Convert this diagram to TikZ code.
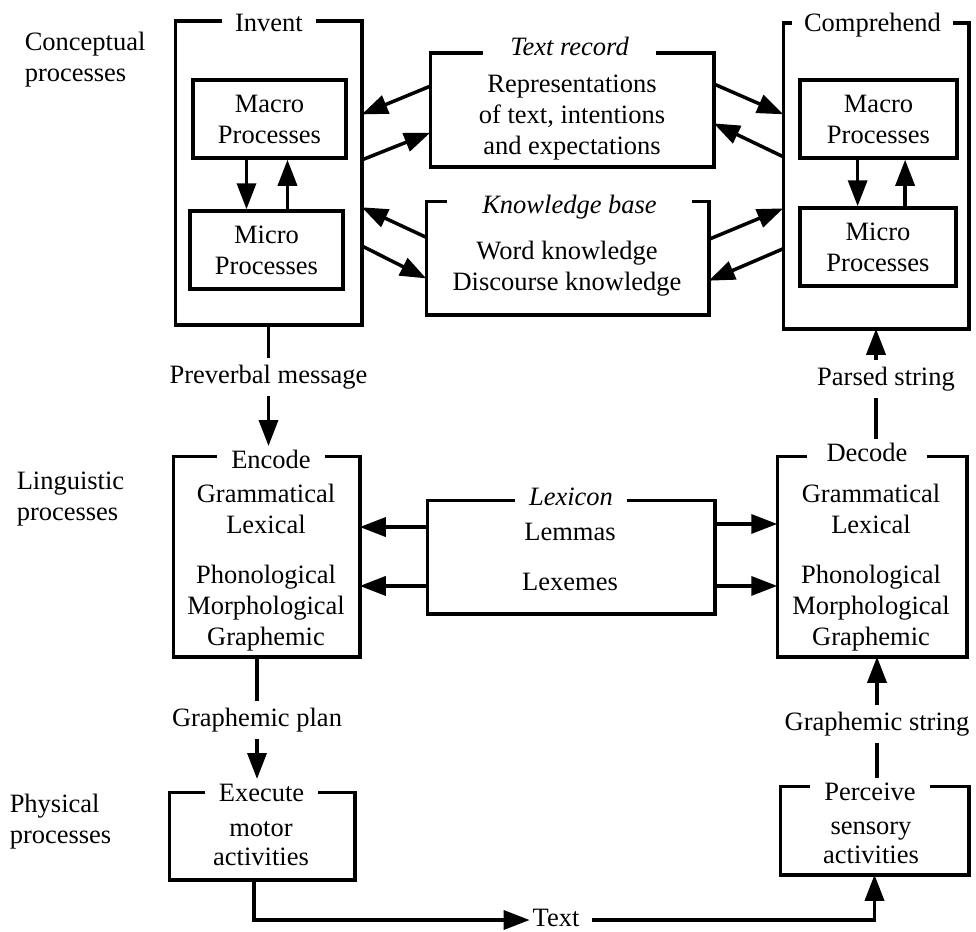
\documentclass[tikz,border=0pt]{standalone}
\usepackage{fontspec}
\setmainfont{Liberation Serif}
\usetikzlibrary{arrows.meta,calc}

\begin{document}
\begin{tikzpicture}[x=1pt,y=-1pt,
  line width=3.5pt,
  every node/.style={font=\fontsize{26.5}{31}\selectfont, inner sep=0pt},
  arr/.style={-{Triangle[length=26pt,width=19pt]}},
  frame/.style={draw=none, inner sep=0pt},
  inbox/.style={draw, align=center, minimum height=78pt},
  ttl/.style={inner ysep=0pt, text height=18pt, text depth=6pt, outer xsep=0pt, outer ysep=4pt},
  ittl/.style={ttl, font=\fontsize{26.5}{31}\selectfont\itshape},
  lbl/.style={text height=18pt, text depth=6pt, outer sep=7pt},
  side/.style={align=left, anchor=west},
]
\useasboundingbox[fill=white] (0,0) rectangle (976,931);

% ---- level labels ----
\node[side] (lvlC) at (23,60) {Conceptual\\processes};
\node[side] (lvlL) at (15,499) {Linguistic\\processes};
\node[side] (lvlP) at (8,822) {Physical\\processes};

% ---- frames (outlines drawn below, broken by their titles) ----
\node[frame, minimum width=183pt, minimum height=300pt] (invent) at (268.5,173) {};
\node[frame, minimum width=182pt, minimum height=302pt] (comprehend) at (876,176) {};
\node[frame, minimum width=280pt, minimum height=110pt] (textrec) at (572,110) {};
\node[frame, minimum width=279pt, minimum height=110pt] (kb) at (567.5,258) {};
\node[frame, minimum width=183pt, minimum height=197pt] (encode) at (266.5,556.5) {};
\node[frame, minimum width=284pt, minimum height=110pt] (lexicon) at (571,557) {};
\node[frame, minimum width=186pt, minimum height=197pt] (decode) at (872,556.5) {};
\node[frame, minimum width=182pt, minimum height=84pt] (execute) at (262,836) {};
\node[frame, minimum width=185pt, minimum height=85pt] (perceive) at (874.5,830.5) {};

% ---- titles ----
\node[ttl, inner xsep=13pt] (inventT) at (269,26) {Invent};
\node[ttl, inner xsep=12pt] (comprehendT) at (872.5,26) {Comprehend};
\node[ittl, inner xsep=27.5pt] (textrecT) at (569.5,50) {Text record};
\node[ittl, inner xsep=35pt] (kbT) at (569.5,207) {Knowledge base};
\node[ittl, inner xsep=14pt] (lexiconT) at (571,499) {Lexicon};
\node[ttl, inner xsep=14.5pt] (encodeT) at (271,462) {Encode};
\node[ttl, inner xsep=20pt] (decodeT) at (867,455) {Decode};
\node[ttl, inner xsep=14pt] (executeT) at (261.5,795) {Execute};
\node[ttl, inner xsep=14pt] (perceiveT) at (870,794) {Perceive};

% ---- outlines ----
\foreach \b in {invent,comprehend,textrec,kb,encode,lexicon,decode,execute,perceive}{
  \draw (\b T.east |- \b.north) -- (\b.north east) -- (\b.south east)
        -- (\b.south west) -- (\b.north west) -- (\b T.west |- \b.north);
}

% ---- contents ----
\node[inbox, minimum width=153pt] (macroL) at (269.5,119) {Macro\\Processes};
\node[inbox, minimum width=153pt] (microL) at (266.5,250) {Micro\\Processes};
\node[inbox, minimum width=157pt] (macroR) at (878.5,119) {Macro\\Processes};
\node[inbox, minimum width=156pt] (microR) at (878,247) {Micro\\Processes};

\node[align=center] (textrecC) at (572,118) {Representations\\of text, intentions\\and expectations};
\node[align=center] (kbC) at (567,269) {Word knowledge\\Discourse knowledge};
\node[align=center] (lexiconC) at (570,557) {Lemmas\\[19pt]Lexemes};
\node[align=center] (encodeC) at (266,568) {Grammatical\\Lexical\\[19pt]Phonological\\Morphological\\Graphemic};
\node[align=center] (decodeC) at (871,568) {Grammatical\\Lexical\\[19pt]Phonological\\Morphological\\Graphemic};
\node[align=center] (executeC) at (261,844) {motor\\[-2pt]activities};
\node[align=center] (perceiveC) at (871,843) {sensory\\[-2pt]activities};

% ---- macro / micro cycles ----
\draw[arr] ($(macroL.south west)!0.353!(macroL.south east)$) coordinate (mL1) -- (mL1 |- microL.north);
\draw[arr] ($(microL.north west)!0.634!(microL.north east)$) coordinate (mL2) -- (mL2 |- macroL.south);
\draw[arr] ($(macroR.south west)!0.37!(macroR.south east)$) coordinate (mR1) -- (mR1 |- microR.north);
\draw[arr] ($(microR.north west)!0.67!(microR.north east)$) coordinate (mR2) -- (mR2 |- macroR.south);

% ---- conceptual exchanges ----
\draw[arr] ($(textrec.north west)!0.29!(textrec.south west)$) -- ($(invent.north east)!0.307!(invent.south east)$);
\draw[arr] ($(invent.north east)!0.457!(invent.south east)$) -- ($(textrec.north west)!0.70!(textrec.south west)$);
\draw[arr] ($(kb.north west)!0.318!(kb.south west)$) -- ($(invent.north east)!0.613!(invent.south east)$);
\draw[arr] ($(invent.north east)!0.74!(invent.south east)$) -- ($(kb.north west)!0.68!(kb.south west)$);

\draw[arr] ($(textrec.north east)!0.27!(textrec.south east)$) -- ($(comprehend.north west)!0.298!(comprehend.south west)$);
\draw[arr] ($(comprehend.north west)!0.437!(comprehend.south west)$) -- ($(textrec.north east)!0.618!(textrec.south east)$);
\draw[arr] ($(kb.north east)!0.336!(kb.south east)$) -- ($(comprehend.north west)!0.606!(comprehend.south west)$);
\draw[arr] ($(comprehend.north west)!0.738!(comprehend.south west)$) -- ($(kb.north east)!0.70!(kb.south east)$);

% ---- lexicon exchanges ----
\coordinate (lxA) at ($(lexicon.north west)!0.236!(lexicon.south west)$);
\coordinate (lxB) at ($(lexicon.north west)!0.755!(lexicon.south west)$);
\coordinate (lxC) at ($(lexicon.north east)!0.209!(lexicon.south east)$);
\coordinate (lxD) at ($(lexicon.north east)!0.755!(lexicon.south east)$);
\draw[arr] (lxA) -- (lxA -| encode.east);
\draw[arr] (lxB) -- (lxB -| encode.east);
\draw[arr] (lxC) -- (lxC -| decode.west);
\draw[arr] (lxD) -- (lxD -| decode.west);

% ---- production chain ----
\node[lbl] (prev) at (268.5,377) {Preverbal message};
\draw (invent.south) -- (prev.north);
\draw[arr] (prev.south) -- (prev.south |- encodeT.north);

\node[lbl] (gplan) at (257,720) {Graphemic plan};
\draw (encode.south -| gplan.north) -- (gplan.north);
\draw[arr] (gplan.south) -- (gplan.south |- executeT.north);

% ---- comprehension chain ----
\node[lbl] (parsed) at (886,379) {Parsed string};
\draw (decodeT.north -| comprehend.south) -- (parsed.south -| comprehend.south);
\draw[arr] (parsed.north -| comprehend.south) -- (comprehend.south);

\node[lbl] (gstring) at (877,724) {Graphemic string};
\draw (perceiveT.north -| gstring.south) -- (gstring.south);
\draw[arr] (gstring.north) -- (gstring.north |- decode.south);

% ---- written text ----
\node[text height=18pt, text depth=6pt, outer xsep=3pt] (textlbl) at (556,920) {Text};
\coordinate (exs) at ($(execute.south west)!0.456!(execute.south east)$);
\draw[arr] (exs) |- (textlbl.west);
\draw[arr, shorten <=10pt] (textlbl.east) -| (perceive.south);
\end{tikzpicture}
\end{document}
